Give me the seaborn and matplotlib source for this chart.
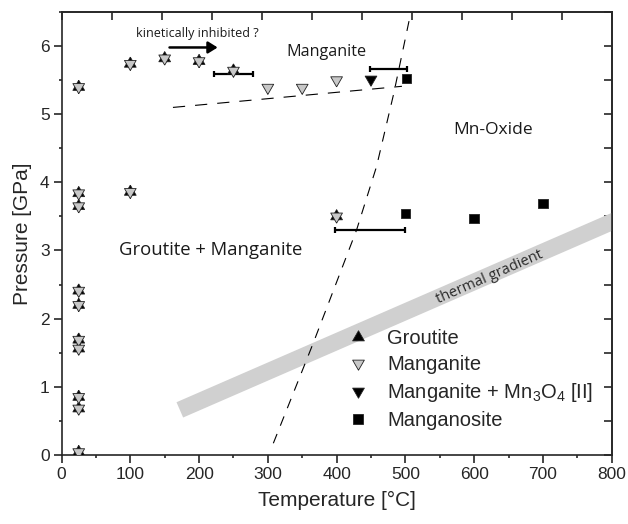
import numpy as np
import pandas as pd
import seaborn as sns
import matplotlib
matplotlib.use('Agg')
import matplotlib.pyplot as plt
from matplotlib.ticker import MultipleLocator

# values
mix_label = 'Manganite + Mn$_\\mathregular{3}$O$_\\mathregular{4}$ [II]'

groutite_T = [25, 25, 25, 25, 25, 25, 25, 25, 25, 25, 100, 150, 200, 250, 100, 400]
groutite_P = [5.40, 3.84, 3.65, 2.41, 2.20, 1.69, 1.56, 0.85, 0.68, 0.04, 5.74, 5.82, 5.78, 5.64, 3.86, 3.50]
manganite_T = groutite_T + [300, 350, 400]
manganite_P = groutite_P + [5.39, 5.39, 5.50]
mix_T = [450]
mix_P = [5.51]
manganosite_T = [502, 500, 600, 700]
manganosite_P = [5.52, 3.54, 3.47, 3.69]

# horizontal error bars
err_T = [250, 476, 449]
err_P = [5.59, 5.67, 3.30]
err_dT = [29, 27, 51]

# phase boundaries and thermal gradient
steep_T = [308, 366, 429, 458, 483, 507]
steep_P = [0.17, 1.64, 3.30, 4.23, 5.30, 6.45]
shallow_T = [162, 495]
shallow_P = [5.10, 5.41]
grad_T = [172, 830]
grad_P = [0.66, 3.55]

df = pd.DataFrame({
    'T': groutite_T + manganite_T + mix_T + manganosite_T,
    'P': groutite_P + manganite_P + mix_P + manganosite_P,
    'phase': ['Groutite'] * len(groutite_T) + ['Manganite'] * len(manganite_T)
             + [mix_label] * len(mix_T) + ['Manganosite'] * len(manganosite_T),
})

sns.set_style('ticks')
plt.rcParams['font.family'] = ['Liberation Sans', 'DejaVu Sans']
plt.rcParams['mathtext.fontset'] = 'custom'
plt.rcParams['mathtext.rm'] = 'Liberation Sans'

fig, ax = plt.subplots(figsize=(6.28, 5.24), dpi=100)
fig.subplots_adjust(left=0.098, right=0.974, bottom=0.132, top=0.977)

# thermal gradient band
ax.plot(grad_T, grad_P, color='#d0d0d0', lw=12, solid_capstyle='butt', zorder=1)
ax.text(623, 2.61, 'thermal gradient', rotation=23.6, ha='center', va='center',
        fontsize=10.5, family='Open Sans', color='#2a2a2a', zorder=2)

# boundaries
ax.plot(steep_T, steep_P, color='black', lw=0.8, dashes=(9, 8), zorder=2)
ax.plot(shallow_T, shallow_P, color='black', lw=0.8, dashes=(11, 9), zorder=2)

ax.errorbar(err_T, err_P, xerr=err_dT, fmt='none', ecolor='black',
            elinewidth=1.6, capsize=2.5, capthick=1.6, zorder=3)

# triangles centred on their centroid so that up + down make a star
tri_up = [(0, 1.155), (-1, -0.577), (1, -0.577), (0, 1.155)]
tri_down = [(0, -1.155), (-1, 0.577), (1, 0.577), (0, -1.155)]

palette = {'Groutite': 'black', 'Manganite': '#c8c8c8', mix_label: 'black', 'Manganosite': 'black'}
markers = {'Groutite': tri_up, 'Manganite': tri_down, mix_label: tri_down, 'Manganosite': 's'}
sizes = {'Groutite': 95, 'Manganite': 95, mix_label: 95, 'Manganosite': 45}
sns.scatterplot(data=df, x='T', y='P', hue='phase', style='phase', size='phase',
                palette=palette, markers=markers, sizes=sizes,
                edgecolor='#222222', linewidth=0.6, ax=ax, zorder=4)

handles, labels = ax.get_legend_handles_labels()
ax.legend(handles, labels, loc='upper left', bbox_to_anchor=(0.521, 0.285),
          frameon=False, fontsize=14.5, handlelength=1.0, handletextpad=0.95,
          labelspacing=0.35, borderpad=0, borderaxespad=0)

# annotations
ax.annotate('', xy=(227, 5.98), xytext=(157, 5.98),
            arrowprops=dict(arrowstyle='-|>,head_length=0.4,head_width=0.25',
                            lw=1.8, color='black', shrinkA=0, shrinkB=0,
                            mutation_scale=14))
ax.text(198, 6.19, 'kinetically inhibited ?', ha='center', va='center',
        fontsize=9, family='Open Sans', color='#1a1a1a')
ax.text(217, 3.0, 'Groutite + Manganite', ha='center', va='center',
        fontsize=13.3, family='Open Sans', color='#1a1a1a')
ax.text(385, 5.91, 'Manganite', ha='center', va='center',
        fontsize=11.6, family='Open Sans', color='#1a1a1a')
ax.text(627, 4.77, 'Mn-Oxide', ha='center', va='center',
        fontsize=12.5, family='Open Sans', color='#1a1a1a')

ax.set_xlim(0, 800)
ax.set_ylim(0, 6.5)
ax.xaxis.set_major_locator(MultipleLocator(100))
ax.xaxis.set_minor_locator(MultipleLocator(50))
ax.yaxis.set_major_locator(MultipleLocator(1))
ax.yaxis.set_minor_locator(MultipleLocator(0.5))
ax.tick_params(which='major', direction='out', length=5.5, width=1.2, labelsize=12.5, pad=3)
ax.tick_params(which='minor', direction='out', length=2.5, width=1.2)
for s in ax.spines.values():
    s.set_linewidth(1.2)
    s.set_visible(True)

top = ax.secondary_xaxis('top')
top.set_xticks(np.linspace(0, 800, 12))
top.tick_params(direction='in', length=5.5, width=1.2, labeltop=False)
right = ax.secondary_yaxis('right')
right.set_yticks(np.arange(0, 6.6, 0.5))
right.tick_params(direction='in', length=5.5, width=1.2, labelright=False)
for sec in (top, right):
    for s in sec.spines.values():
        s.set_linewidth(1.2)

ax.set_xlabel('Temperature [°C]', fontsize=15, labelpad=7)
ax.set_ylabel('Pressure [GPa]', fontsize=15, labelpad=6)

fig.savefig('out.png', dpi=100)
